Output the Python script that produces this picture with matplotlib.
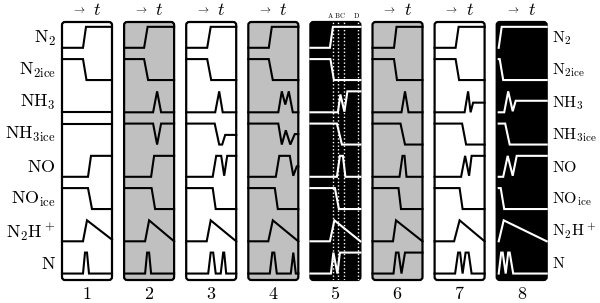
from __future__ import annotations

import matplotlib
matplotlib.use("Agg")
import matplotlib.pyplot as plt
from matplotlib.patches import FancyBboxPatch


# species labels, top to bottom
SPECIES = [r"$\mathrm{N_2}$", r"$\mathrm{N_{2ice}}$", r"$\mathrm{NH_3}$", r"$\mathrm{NH_{3ice}}$",
           r"$\mathrm{NO}$", r"$\mathrm{NO_{ice}}$", r"$\mathrm{N_2H^+}$", r"$\mathrm{N}$"]
PANEL_LABELS = ["1", "2", "3", "4", "5", "6", "7", "8"]
PANEL_BG = ["white", "#c0c0c0", "white", "#c0c0c0", "black", "#c0c0c0", "white", "black"]
EPOCHS = ["A", "B", "C", "D"]          # marked in panel 5
EPOCH_T = [0.45, 0.56, 0.67, 0.95]

# schematic curves: one list of (t, level) per panel, level 0 = low, 1 = high
N2 = [
    [(0, 0), (0.42, 0), (0.48, 1), (1, 1)],
    [(0, 0), (0.40, 0), (0.47, 1), (1, 1)],
    [(0, 0), (0.42, 0), (0.49, 1), (1, 1)],
    [(0, 0), (0.41, 0), (0.47, 1), (1, 1)],
    [(0, 0), (0.39, 0), (0.45, 1), (1, 1)],
    [(0, 0), (0.43, 0), (0.48, 1), (1, 1)],
    [(0, 0), (0.42, 0), (0.48, 1), (1, 1)],
    [(0.04, 0), (0.10, 1), (1, 1)],
]
N2_ICE = [
    [(0, 1), (0.42, 1), (0.49, 0), (1, 0)],
    [(0, 1), (0.40, 1), (0.48, 0), (1, 0)],
    [(0, 1), (0.42, 1), (0.50, 0), (1, 0)],
    [(0, 1), (0.41, 1), (0.49, 0), (1, 0)],
    [(0, 1), (0.40, 1), (0.47, 0), (1, 0)],
    [(0, 1), (0.43, 1), (0.49, 0), (1, 0)],
    [(0, 1), (0.42, 1), (0.49, 0), (1, 0)],
    [(0.04, 1), (0.06, 1), (0.13, 0), (1, 0)],
]
NH3 = [
    [(0, 0), (1, 0)],
    [(0, 0), (0.58, 0), (0.66, 1), (0.74, 0), (1, 0)],
    [(0, 0), (0.58, 0), (0.66, 1), (0.73, 0), (1, 0)],
    [(0, 0), (0.60, 0), (0.67, 1), (0.74, 0.37), (0.81, 1), (0.89, 0), (1, 0)],
    [(0, 0), (0.55, 0), (0.60, 0.85), (0.68, 0.03), (0.74, 1), (1, 1)],
    [(0, 0), (0.58, 0), (0.65, 1), (0.72, 0), (1, 0)],
    [(0, 0), (0.60, 0), (0.67, 1), (0.72, 0), (0.77, 0.46), (1, 0.46)],
    [(0.04, 0), (0.15, 0), (0.23, 1), (0.32, 0.05), (0.38, 0.55), (1, 0.55)],
]
NH3_ICE = [
    [(0, 1), (1, 1)],
    [(0, 1), (0.58, 1), (0.66, 0), (0.74, 1), (1, 1)],
    [(0, 1), (0.57, 1), (0.66, 0), (0.72, 0), (0.78, 0.46), (1, 0.46)],
    [(0, 1), (0.60, 1), (0.67, 0), (0.75, 0.68), (0.84, 0), (0.93, 0.5), (1, 0.5)],
    [(0, 1), (0.53, 1), (0.63, 0), (1, 0)],
    [(0, 1), (0.56, 1), (0.65, 0), (1, 0)],
    [(0, 1), (0.55, 1), (0.63, 0), (1, 0)],
    [(0.04, 1), (0.17, 1), (0.26, 0), (1, 0)],
]
NO = [
    [(0, 0), (0.52, 0), (0.58, 1), (1, 1)],
    [(0, 0), (0.54, 0), (0.60, 1), (1, 1)],
    [(0, 0), (0.53, 0), (0.60, 1), (0.70, 1), (0.76, 0.05), (0.82, 1), (1, 1)],
    [(0, 0), (0.55, 0), (0.62, 1), (0.83, 1), (0.90, 0.05), (0.97, 0.5), (1, 0.5)],
    [(0, 0), (0.53, 0), (0.59, 1), (0.65, 1), (0.70, 0), (1, 0)],
    [(0, 0), (0.54, 0), (0.60, 1), (0.64, 1), (0.68, 0), (1, 0)],
    [(0, 0), (0.53, 0), (0.61, 1), (0.69, 0.05), (0.74, 1), (1, 1)],
    [(0.04, 0), (0.13, 0), (0.22, 1), (0.32, 0.05), (0.40, 1), (1, 1)],
]
NO_ICE = [
    [(0, 1), (0.52, 1), (0.60, 0), (1, 0)],
    [(0, 1), (0.55, 1), (0.62, 0), (1, 0)],
    [(0, 1), (0.53, 1), (0.59, 0), (1, 0)],
    [(0, 1), (0.53, 1), (0.59, 0), (1, 0)],
    [(0, 1), (0.49, 1), (0.57, 0), (1, 0)],
    [(0, 1), (0.52, 1), (0.57, 0), (1, 0)],
    [(0, 1), (0.50, 1), (0.56, 0), (1, 0)],
    [(0.04, 1), (0.08, 1), (0.15, 0), (1, 0)],
]
N2H = [
    [(0, 0), (0.42, 0), (0.50, 1), (1, 0.08)],
    [(0, 0), (0.42, 0), (0.50, 1), (1, 0)],
    [(0, 0), (0.41, 0), (0.49, 1), (1, 0)],
    [(0, 0), (0.40, 0), (0.49, 1), (1, 0)],
    [(0, 0), (0.39, 0), (0.48, 1), (1, 0)],
    [(0, 0), (0.41, 0), (0.47, 1), (1, 0)],
    [(0, 0), (0.39, 0), (0.50, 1), (1, 0)],
    [(0.04, 0), (0.14, 1), (1, 0)],
]
N_ATOM = [
    [(0, 0), (0.42, 0), (0.46, 1), (0.50, 1), (0.54, 0), (1, 0)],
    [(0, 0), (0.42, 0), (0.46, 1), (0.50, 1), (0.54, 0), (1, 0)],
    [(0, 0), (0.44, 0), (0.49, 1), (0.54, 1), (0.59, 0), (0.69, 0), (0.74, 1), (0.76, 1), (0.80, 0), (1, 0)],
    [(0, 0), (0.43, 0), (0.48, 1), (0.52, 1), (0.57, 0), (0.85, 0), (0.90, 1), (0.95, 0), (1, 0)],
    [(0, 0), (0.41, 0), (0.46, 1), (0.54, 0), (0.59, 1), (1, 1)],
    [(0, 0), (0.42, 0), (0.47, 1), (0.52, 1), (0.58, 0), (0.65, 1), (1, 1)],
    [(0, 0), (0.41, 0), (0.47, 1), (0.51, 1), (0.56, 0), (0.62, 1), (0.68, 1), (0.74, 0), (1, 0)],
    [(0.04, 0), (0.09, 1), (0.12, 1), (0.18, 0), (0.23, 1), (0.26, 1), (0.33, 0), (1, 0)],
]
CURVES = [N2, N2_ICE, NH3, NH3_ICE, NO, NO_ICE, N2H, N_ATOM]

W, H = 600, 303
PX0, PSTEP, PW = 62, 62.1, 50      # panel left edge, spacing, width (pixels)
PTOP, PBOT = 22, 280


def panel(fig, i):
    left = PX0 + PSTEP * i
    ax = fig.add_axes([left / W, (H - PBOT) / H, PW / W, (PBOT - PTOP) / H])
    ax.set_xlim(0, 1)
    ax.set_ylim(0, 8)
    ax.set_axis_off()
    bg = PANEL_BG[i]
    fg = "white" if bg == "black" else "black"
    box = FancyBboxPatch((0, 0), 1, 1, boxstyle="round,pad=0,rounding_size=0.06",
                         mutation_aspect=PW / (PBOT - PTOP), transform=ax.transAxes,
                         facecolor=bg, edgecolor="black", lw=1.6, clip_on=False, zorder=0)
    ax.add_patch(box)
    for r, species in enumerate(CURVES):
        pts = species[i]
        t = [p[0] for p in pts]
        y = [(7 - r) + 0.2 + 0.65 * p[1] for p in pts]
        ax.plot(t, y, color=fg, lw=1.5, solid_joinstyle="miter", clip_on=False, zorder=3)
    cx = (left + PW / 2) / W
    if i == 4:
        for k, (name, te) in enumerate(zip(EPOCHS, EPOCH_T)):
            ax.axvline(te, color="white", lw=1.0, ls=(0, (1, 1.6)), zorder=2)
            dx = -0.05 if k == 0 else -0.03
            ax.text(te + dx, 1 + 7 / (PBOT - PTOP), r"$\mathrm{%s}$" % name,
                    transform=ax.transAxes, ha="center", va="center", fontsize=5)
    else:
        fig.text(cx - 8 / W, 1 - 10 / H, r"$\rightarrow$", ha="center", va="center", fontsize=8)
        fig.text(cx + 10 / W, 1 - 10 / H, r"$t$", ha="center", va="center", fontsize=13)
    fig.text(cx, 1 - 294 / H, r"$%s$" % PANEL_LABELS[i], ha="center", va="center", fontsize=13)
    return ax


def main() -> int:
    plt.rcParams["mathtext.fontset"] = "cm"
    fig = plt.figure(figsize=(W / 100, H / 100), dpi=100)
    for i in range(8):
        panel(fig, i)
    row_h = (PBOT - PTOP) / 8
    for r, lab in enumerate(SPECIES):
        yc = 1 - (PTOP + row_h * (r + 0.5)) / H
        fig.text(56 / W, yc, lab, ha="right", va="center", fontsize=13)
        fig.text(552 / W, yc, lab, ha="left", va="center", fontsize=11.5)
    fig.savefig("out.png", dpi=100, facecolor="white")
    plt.close(fig)
    return 0


if __name__ == "__main__":
    raise SystemExit(main())
